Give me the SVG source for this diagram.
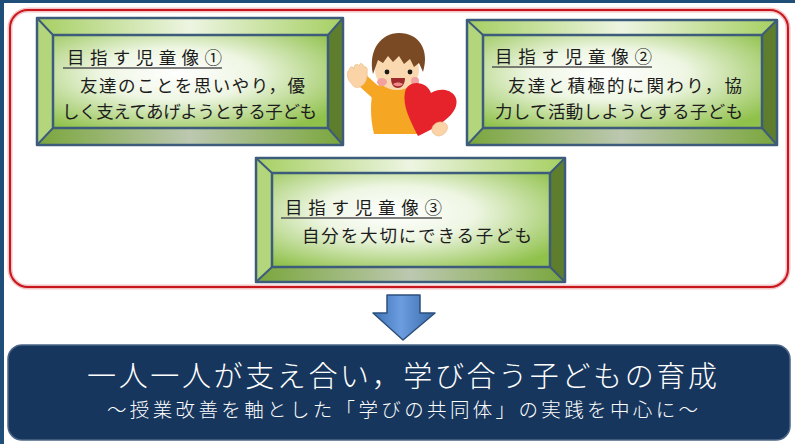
<svg xmlns="http://www.w3.org/2000/svg" width="795" height="444" viewBox="0 0 795 444">
  <defs>
    <!-- bevel panel fills -->
    <radialGradient id="faceFill" cx="0.45" cy="0.42" r="0.7">
      <stop offset="0" stop-color="#ffffff"/>
      <stop offset="0.4" stop-color="#eef6e3"/>
      <stop offset="1" stop-color="#90c14b"/>
    </radialGradient>
    <linearGradient id="topFill" x1="0" y1="0" x2="1" y2="0">
      <stop offset="0" stop-color="#a6cf62"/>
      <stop offset="0.5" stop-color="#edf5e2"/>
      <stop offset="1" stop-color="#a6cf62"/>
    </linearGradient>
    <linearGradient id="bottomFill" x1="0" y1="0" x2="1" y2="0">
      <stop offset="0" stop-color="#7aa63c"/>
      <stop offset="0.5" stop-color="#bcc8b0"/>
      <stop offset="1" stop-color="#7aa63c"/>
    </linearGradient>
    <linearGradient id="arrowFill" x1="0" y1="0" x2="1" y2="0">
      <stop offset="0" stop-color="#3f72b5"/>
      <stop offset="0.45" stop-color="#6b9de0"/>
      <stop offset="1" stop-color="#3a6aa8"/>
    </linearGradient>
    <style>
      .top { fill: url(#topFill); }
      .left { fill: #b3d67c; }
      .right { fill: #5e7e2e; }
      .bottom { fill: url(#bottomFill); }
      .face { fill: url(#faceFill); }
      .edge { fill: none; stroke: #3d5c7c; stroke-width: 2.5; stroke-linejoin: round; }
      .bev { stroke: #3d5c7c; stroke-width: 2; }
      .jp { font-family: "Noto Sans CJK JP", "Noto Sans CJK SC", sans-serif; fill: #1c1c1c; font-size: 17.5px; }
      .uline { stroke: #555555; stroke-width: 1.3; }
      .banner1 { font-family: "Noto Sans CJK JP", sans-serif; fill: #ffffff; font-size: 29px; font-weight: 300; }
      .banner2 { font-family: "Noto Sans CJK JP", sans-serif; fill: #ffffff; font-size: 19.5px; font-weight: 300; }
    </style>
  </defs>

  <rect x="0" y="0" width="795" height="444" fill="#ffffff"/>
  <!-- frame strips -->
  <rect x="0" y="0" width="4" height="444" fill="#1f4e79"/>
  <rect x="0" y="0" width="795" height="3" fill="#1f4e79"/>

  <!-- red rounded frame around the three goals -->
  <g id="goal-frame">
    <rect x="10" y="10" width="778" height="277" rx="18" fill="none" stroke="#f3c4c6" stroke-width="5"/>
    <rect x="10" y="10" width="778" height="277" rx="18" fill="none" stroke="#c8161e" stroke-width="2"/>
  </g>

  <!-- goal 1 -->
  <g id="goal1">
    <polygon class="top" points="37,18 343,18 328,35 53,35"/>
    <polygon class="left" points="37,18 53,35 53,128 37,145"/>
    <polygon class="right" points="343,18 343,145 328,128 328,35"/>
    <polygon class="bottom" points="37,145 53,128 328,128 343,145"/>
    <rect class="face" x="53" y="35" width="275" height="93"/>
    <path class="bev" d="M37,18 L53,35 M343,18 L328,35 M37,145 L53,128 M343,145 L328,128"/>
    <rect class="edge" x="53" y="35" width="275" height="93"/>
    <rect class="edge" x="37" y="18" width="306" height="127"/>
    <text class="jp" x="67" y="64" textLength="155" lengthAdjust="spacing">目指す児童像①</text>
    <line class="uline" x1="63" y1="68" x2="222" y2="68"/>
    <text class="jp" x="80" y="92" textLength="225" lengthAdjust="spacing">友達のことを思いやり，優</text>
    <text class="jp" x="62" y="118" textLength="255" lengthAdjust="spacing">しく支えてあげようとする子ども</text>
  </g>

  <!-- goal 2 -->
  <g id="goal2">
    <polygon class="top" points="467,20 777,20 762,35 483,35"/>
    <polygon class="left" points="467,20 483,35 483,128 467,145"/>
    <polygon class="right" points="777,20 777,145 762,128 762,35"/>
    <polygon class="bottom" points="467,145 483,128 762,128 777,145"/>
    <rect class="face" x="483" y="35" width="279" height="93"/>
    <path class="bev" d="M467,20 L483,35 M777,20 L762,35 M467,145 L483,128 M777,145 L762,128"/>
    <rect class="edge" x="483" y="35" width="279" height="93"/>
    <rect class="edge" x="467" y="20" width="310" height="125"/>
    <text class="jp" x="495" y="63" textLength="157" lengthAdjust="spacing">目指す児童像②</text>
    <line class="uline" x1="492" y1="67" x2="652" y2="67"/>
    <text class="jp" x="508" y="92" textLength="234" lengthAdjust="spacing">友達と積極的に関わり，協</text>
    <text class="jp" x="495" y="118" textLength="248" lengthAdjust="spacing">力して活動しようとする子ども</text>
  </g>

  <!-- goal 3 -->
  <g id="goal3">
    <polygon class="top" points="256,158 565,158 550,173 272,173"/>
    <polygon class="left" points="256,158 272,173 272,267 256,282"/>
    <polygon class="right" points="565,158 565,282 550,267 550,173"/>
    <polygon class="bottom" points="256,282 272,267 550,267 565,282"/>
    <rect class="face" x="272" y="173" width="278" height="94"/>
    <path class="bev" d="M256,158 L272,173 M565,158 L550,173 M256,282 L272,267 M565,282 L550,267"/>
    <rect class="edge" x="272" y="173" width="278" height="94"/>
    <rect class="edge" x="256" y="158" width="309" height="124"/>
    <text class="jp" x="285" y="214" textLength="157" lengthAdjust="spacing">目指す児童像③</text>
    <line class="uline" x1="281" y1="218" x2="442" y2="218"/>
    <text class="jp" x="302" y="242" textLength="230" lengthAdjust="spacing">自分を大切にできる子ども</text>
  </g>

  <!-- boy holding a heart -->
  <g id="boy">
    <!-- waving arm -->
    <path d="M382,98 L362,80" stroke="#f5a623" stroke-width="13" stroke-linecap="round" fill="none"/>
    <path d="M352,84 C347,80 346,72 349,70 C350,66 353,66 354,69 C354,64 357,63 359,66 C360,62 363,63 364,67 C366,66 368,68 367,72 C368,78 366,84 360,87 C356,88 353,87 352,84 Z" fill="#fad3a6" stroke="#e8b57f" stroke-width="0.6"/>
    <!-- body -->
    <path d="M374,86 C392,83 406,86 414,90 L418,134 L374,134 C370,118 370,100 374,86 Z" fill="#f5a623"/>
    <!-- face -->
    <ellipse cx="397" cy="70" rx="22" ry="20" fill="#fbd9b0"/>
    <!-- hair -->
    <path d="M373,74 C368,50 381,33 399,33 C419,33 430,50 423,72 L419,63 L414,67 L410,59 L404,64 L399,56 L393,62 L388,56 L383,63 L378,60 Z" fill="#7a4a24"/>
    <!-- eyes, mouth, cheeks -->
    <circle cx="387" cy="72" r="2.4" fill="#1a1a1a"/>
    <circle cx="410" cy="72" r="2.4" fill="#1a1a1a"/>
    <path d="M391,78 L405,78 C405,85 401,88 398,88 C394,88 391,85 391,78 Z" fill="#9e2a2b"/>
    <path d="M393,84 C396,82 400,82 403,84 C401,87 395,87 393,84 Z" fill="#f08a8a"/>
    <ellipse cx="382" cy="82" rx="5" ry="4" fill="#f3a1a0"/>
    <ellipse cx="415" cy="81" rx="4" ry="4" fill="#f3a1a0"/>
    <!-- heart -->
    <path d="M431,93 C427,81 408,79 405,92 C402,106 411,122 418,136 C433,129 452,119 456,106 C460,93 444,85 431,93 Z" fill="#e6232a"/>
    <!-- holding hand -->
    <path d="M432,128 C434,121 444,120 447,125 C449,130 444,136 438,136 C434,135 431,132 432,128 Z" fill="#fad3a6" stroke="#e8b57f" stroke-width="0.6"/>
  </g>

  <!-- connector arrow -->
  <g id="connectors">
    <path d="M387,295 H420 V313 H435 L403,340 L373,313 H387 Z" fill="url(#arrowFill)" stroke="#2d4f7c" stroke-width="1.5" stroke-linejoin="round"/>
  </g>

  <!-- theme banner -->
  <g id="theme">
    <rect x="8" y="345" width="782" height="95" rx="14" fill="#17365d" stroke="#4b6587" stroke-width="1.5"/>
    <text class="banner1" x="87" y="387" textLength="630" lengthAdjust="spacing">一人一人が支え合い，学び合う子どもの育成</text>
    <text class="banner2" x="107" y="417" textLength="591" lengthAdjust="spacing">～授業改善を軸とした「学びの共同体」の実践を中心に～</text>
  </g>
</svg>
